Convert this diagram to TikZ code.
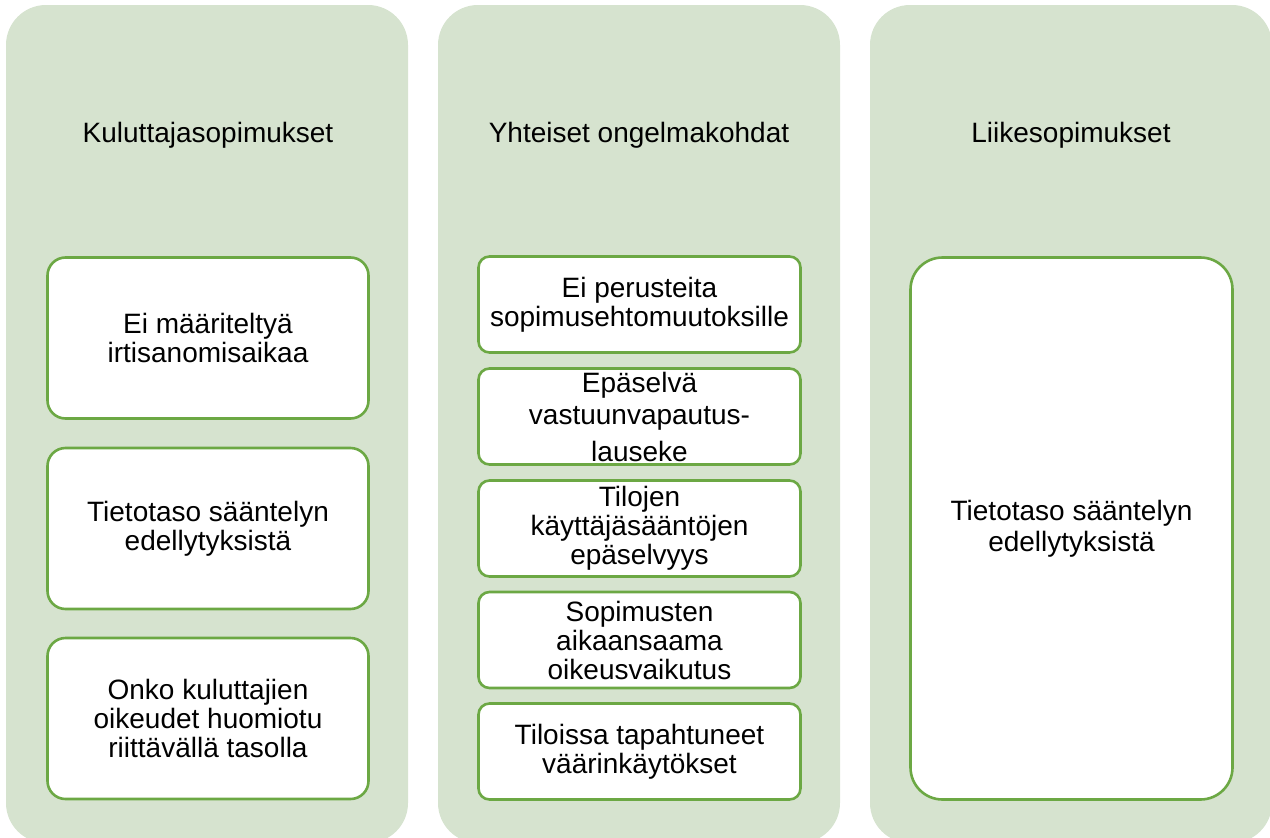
\documentclass[tikz,border=0pt]{standalone}
\usepackage{fontspec}
\setmainfont{Liberation Sans}
\definecolor{panelfill}{RGB}{214,227,207}
\definecolor{boxline}{RGB}{108,168,68}
\begin{document}
\begin{tikzpicture}[x=1pt,y=-1pt,
  panel/.style={fill=panelfill, draw=none, rounded corners=40pt, inner sep=0pt,
    minimum width=402pt, minimum height=838pt},
  header/.style={inner sep=0pt, font=\fontsize{28}{29}\selectfont, text=black},
  itembox/.style={draw=boxline, line width=2.6pt, fill=white, inner sep=0pt,
    align=center, font=\fontsize{28}{29}\selectfont, text=black},
  lbox/.style={itembox, rounded corners=18pt, minimum width=321pt, minimum height=161pt},
  mbox/.style={itembox, rounded corners=11pt, minimum width=322pt, minimum height=96pt},
  rbox/.style={itembox, rounded corners=32pt, minimum width=322pt, minimum height=542pt}]
\useasboundingbox (0,0) rectangle (1270,838);
\clip (0,0) rectangle (1270,838);
% panels
\node[panel] (pL) at (207,424) {};
\node[panel] (pM) at (639,424) {};
\node[panel] (pR) at (1071,424) {};
% headers
\node[header] (hL) at (208,135) {Kuluttajasopimukset};
\node[header] (hM) at (639,135) {Yhteiset ongelmakohdat};
\node[header] (hR) at (1071,135) {Liikesopimukset};
% left boxes
\node[lbox] (l1) at (208,338) {Ei määriteltyä\\irtisanomisaikaa};
\node[lbox] (l2) at (208,528.5) {Tietotaso sääntelyn\\edellytyksistä};
\node[lbox] (l3) at (208,718.5) {Onko kuluttajien\\oikeudet huomiotu\\riittävällä tasolla};
% middle boxes
\node[mbox] (m1) at (639.5,304.5) {Ei perusteita\\sopimusehtomuutoksille};
\node[mbox] (m2) at (639.5,416.5) {Epäselvä\\[3pt]vastuunvapautus-\\[8pt]lauseke};
\node[mbox] (m3) at (639.5,528.5) {Tilojen\\käyttäjäsääntöjen\\epäselvyys};
\node[mbox] (m4) at (639.5,640) {Sopimusten\\aikaansaama\\oikeusvaikutus};
\node[mbox] (m5) at (639.5,751.5) {Tiloissa tapahtuneet\\väärinkäytökset};
% right box
\node[rbox] (r1) at (1071.5,528.5) {Tietotaso sääntelyn\\[2pt]edellytyksistä};
\end{tikzpicture}
\end{document}
